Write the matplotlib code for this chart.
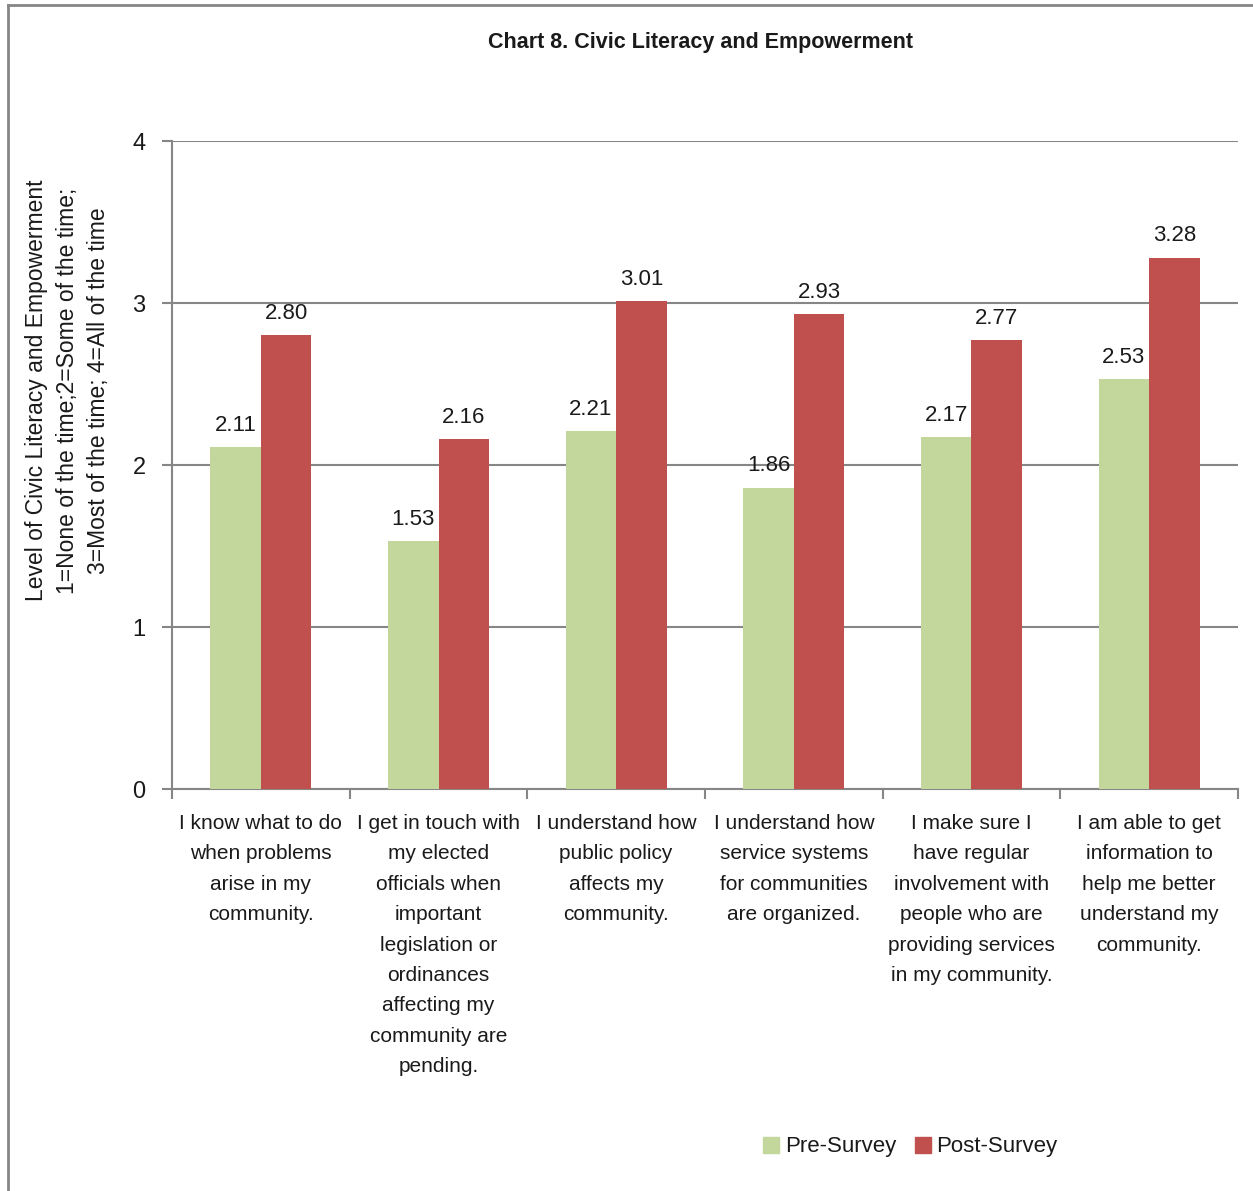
import matplotlib
matplotlib.use('Agg')
import matplotlib.pyplot as plt
import numpy as np
from matplotlib.lines import Line2D

plt.rcParams['font.family'] = ['Liberation Sans', 'DejaVu Sans']

categories = ['I know what to do\nwhen problems\narise in my\ncommunity.',
              'I get in touch with\nmy elected\nofficials when\nimportant\nlegislation or\nordinances\naffecting my\ncommunity are\npending.',
              'I understand how\npublic policy\naffects my\ncommunity.',
              'I understand how\nservice systems\nfor communities\nare organized.',
              'I make sure I\nhave regular\ninvolvement with\npeople who are\nproviding services\nin my community.',
              'I am able to get\ninformation to\nhelp me better\nunderstand my\ncommunity.']
pre = [2.11, 1.53, 2.21, 1.86, 2.17, 2.53]
post = [2.80, 2.16, 3.01, 2.93, 2.77, 3.28]

green = '#c3d69b'
red = '#c0504d'
grey = '#868686'
txt = '#1a1a1a'

fig = plt.figure(figsize=(12.53, 11.91), dpi=100)
ax = fig.add_axes([0.1373, 0.3375, 0.8507, 0.5441])

x = np.arange(len(categories))
w = 0.285
ax.bar(x - w/2, pre, w, color=green, label='Pre-Survey', zorder=3)
ax.bar(x + w/2, post, w, color=red, label='Post-Survey', zorder=3)

for i in range(len(x)):
    ax.text(x[i] - w/2, pre[i] + 0.07, '%.2f' % pre[i], ha='center', va='bottom', fontsize=16, color=txt, zorder=4)
    ax.text(x[i] + w/2, post[i] + 0.07, '%.2f' % post[i], ha='center', va='bottom', fontsize=16, color=txt, zorder=4)

ax.set_xlim(-0.5, len(x) - 0.5)
ax.set_ylim(0, 4)
ax.set_yticks([0, 1, 2, 3, 4])
ax.yaxis.grid(True, color=grey, linewidth=1.5, zorder=0)
ax.set_xticks(x)
ax.set_xticklabels(categories, fontsize=15, linespacing=1.76, color=txt)
ax.set_xticks(np.arange(-0.5, len(x)), minor=True)
ax.tick_params(axis='x', which='major', length=0, pad=18)
ax.tick_params(axis='x', which='minor', length=7, width=1.5, color=grey)
ax.tick_params(axis='y', length=7, width=1.5, color=grey, labelsize=17, labelcolor=txt, pad=12)
for s in ['top', 'right']:
    ax.spines[s].set_visible(False)
for s in ['left', 'bottom']:
    ax.spines[s].set_color(grey)
    ax.spines[s].set_linewidth(1.5)

fig.text(0.054, 0.672, 'Level of Civic Literacy and Empowerment\n1=None of the time;2=Some of the time;\n3=Most of the time; 4=All of the time',
         rotation=90, ha='center', va='center', fontsize=16.5, linespacing=1.45, color=txt)

fig.text(0.559, 0.964, 'Chart 8. Civic Literacy and Empowerment', ha='center', va='center',
         fontsize=15.5, fontweight='bold', color=txt)

handles = [Line2D([], [], marker='s', color='none', markerfacecolor=green, markeredgecolor=green, markersize=11),
           Line2D([], [], marker='s', color='none', markerfacecolor=red, markeredgecolor=red, markersize=11)]
fig.legend(handles, ['Pre-Survey', 'Post-Survey'], loc='center', bbox_to_anchor=(0.727, 0.037),
           ncol=2, frameon=False, fontsize=16, handlelength=0.6, handletextpad=0.3, columnspacing=0.9,
           labelcolor=txt)

# border on top and left only
fig.add_artist(Line2D([0.006, 0.006], [0, 0.996], transform=fig.transFigure, color=grey, linewidth=2))
fig.add_artist(Line2D([0.006, 1], [0.996, 0.996], transform=fig.transFigure, color=grey, linewidth=2))

fig.savefig('out.png', dpi=100)
